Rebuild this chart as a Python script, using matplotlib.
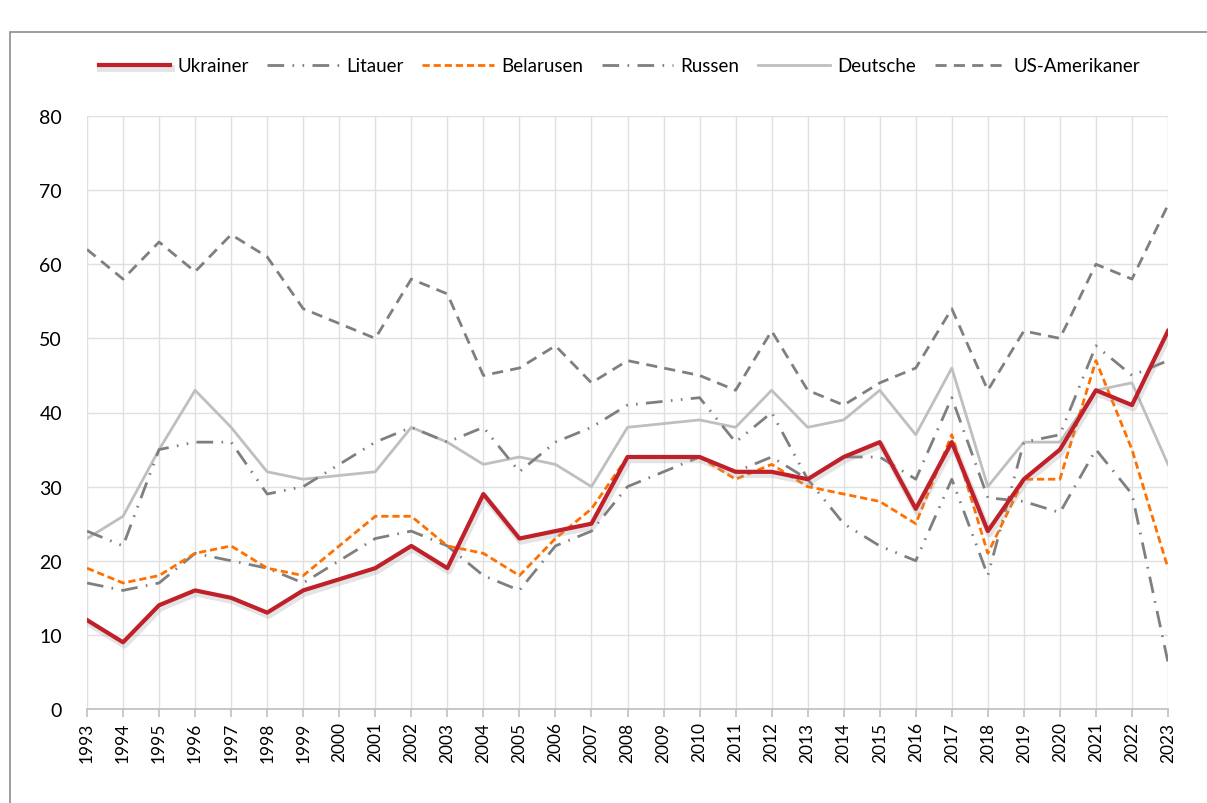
import numpy as np
import matplotlib.pyplot as plt
import matplotlib.patheffects as pe
from matplotlib.patches import Rectangle

plt.rcParams['font.family'] = ['Lato', 'DejaVu Sans']

# Daten
jahre = list(range(1993, 2024))

ukrainer = [12, 9, 14, 16, 15, 13, 16, 17.5, 19, 22, 19, 29, 23, 24, 25, 34, 34, 34,
            32, 32, 31, 34, 36, 27, 36, 24, 31, 35, 43, 41, 51]
litauer = [24, 22, 35, 36, 36, 29, 30, 33, 36, 38, 36, 38, 32, 36, 38, 41, 41.5, 42,
           36, 40, 31, 25, 22, 20, 31, 18, 36, 37, 49, 45, 47]
belarusen = [19, 17, 18, 21, 22, 19, 18, 22, 26, 26, 22, 21, 18, 23, 27, 34, 34, 34,
             31, 33, 30, 29, 28, 25, 37, 21, 31, 31, 47, 35, 19]
russen = [17, 16, 17, 21, 20, 19, 17, 20, 23, 24, 22, 18, 16, 22, 24, 30, 32, 34,
          32, 34, 31, 34, 34, 31, 42, 28.5, 28, 26.5, 35, 29, 6.3]
deutsche = [23, 26, 35, 43, 38, 32, 31, 31.5, 32, 38, 36, 33, 34, 33, 30, 38, 38.5, 39,
            38, 43, 38, 39, 43, 37, 46, 30, 36, 36, 43, 44, 33]
us_amerikaner = [62, 58, 63, 59, 64, 61, 54, 52, 50, 58, 56, 45, 46, 49, 44, 47, 46, 45,
                 43, 51, 43, 41, 44, 46, 54, 43, 51, 50, 60, 58, 68]

fig = plt.figure(figsize=(12.07, 8.04), dpi=100)
fig.patches.append(Rectangle((10 / 1207, -0.05), 1.1, 1.05 - 33 / 804,
                             transform=fig.transFigure, fill=False,
                             edgecolor='#8c8c8c', linewidth=1.2))
ax = fig.add_axes([87 / 1207, 1 - 710 / 804, (1168 - 87) / 1207, (710 - 117) / 804])

dunkelgrau = '#7f7f7f'
ax.plot(jahre, us_amerikaner, color=dunkelgrau, lw=2.0, dashes=(4, 2.6),
        label='US-Amerikaner', zorder=3)
ax.plot(jahre, deutsche, color='#bfbfbf', lw=2.0, label='Deutsche', zorder=3)
ax.plot(jahre, litauer, color=dunkelgrau, lw=2.0, dashes=(6, 3, 0.6, 3, 0.6, 3),
        label='Litauer', zorder=4)
ax.plot(jahre, russen, color=dunkelgrau, lw=2.0, dashes=(6, 3, 0.6, 3),
        label='Russen', zorder=4)
ax.plot(jahre, belarusen, color='#ff7000', lw=2.0, dashes=(2.6, 1.4),
        label='Belarusen', zorder=5)
ax.plot(jahre, ukrainer, color='#c0202a', lw=3.0, label='Ukrainer', zorder=6,
        path_effects=[pe.SimpleLineShadow(offset=(1.0, -2.0), shadow_color='#a0a0a0', alpha=0.28,
                                          linewidth=5),
                      pe.Normal()])

ax.set_xlim(1993, 2023)
ax.set_ylim(0, 80)
ax.set_yticks(range(0, 81, 10))
ax.set_xticks(jahre)
ax.set_xticklabels([str(j) for j in jahre], rotation=90, fontsize=12.5)
ax.tick_params(axis='y', length=0, labelsize=14, pad=18)
ax.tick_params(axis='x', length=6, color='#bfbfbf', width=1.2, pad=3)
ax.grid(True, color='#e0e0e0', linewidth=1.0)
ax.set_axisbelow(True)
for s in ['top', 'right', 'left']:
    ax.spines[s].set_visible(False)
ax.spines['bottom'].set_color('#bfbfbf')
ax.spines['bottom'].set_linewidth(1.2)

handles, labels = ax.get_legend_handles_labels()
order = ['Ukrainer', 'Litauer', 'Belarusen', 'Russen', 'Deutsche', 'US-Amerikaner']
h = [handles[labels.index(l)] for l in order]
fig.legend(h, order, loc='center', bbox_to_anchor=(0.513, 1 - 67 / 804), ncol=6,
           frameon=False, fontsize=13.5, handlelength=3.8, columnspacing=1.0,
           handletextpad=0.4)

fig.savefig('out.png', dpi=100)
